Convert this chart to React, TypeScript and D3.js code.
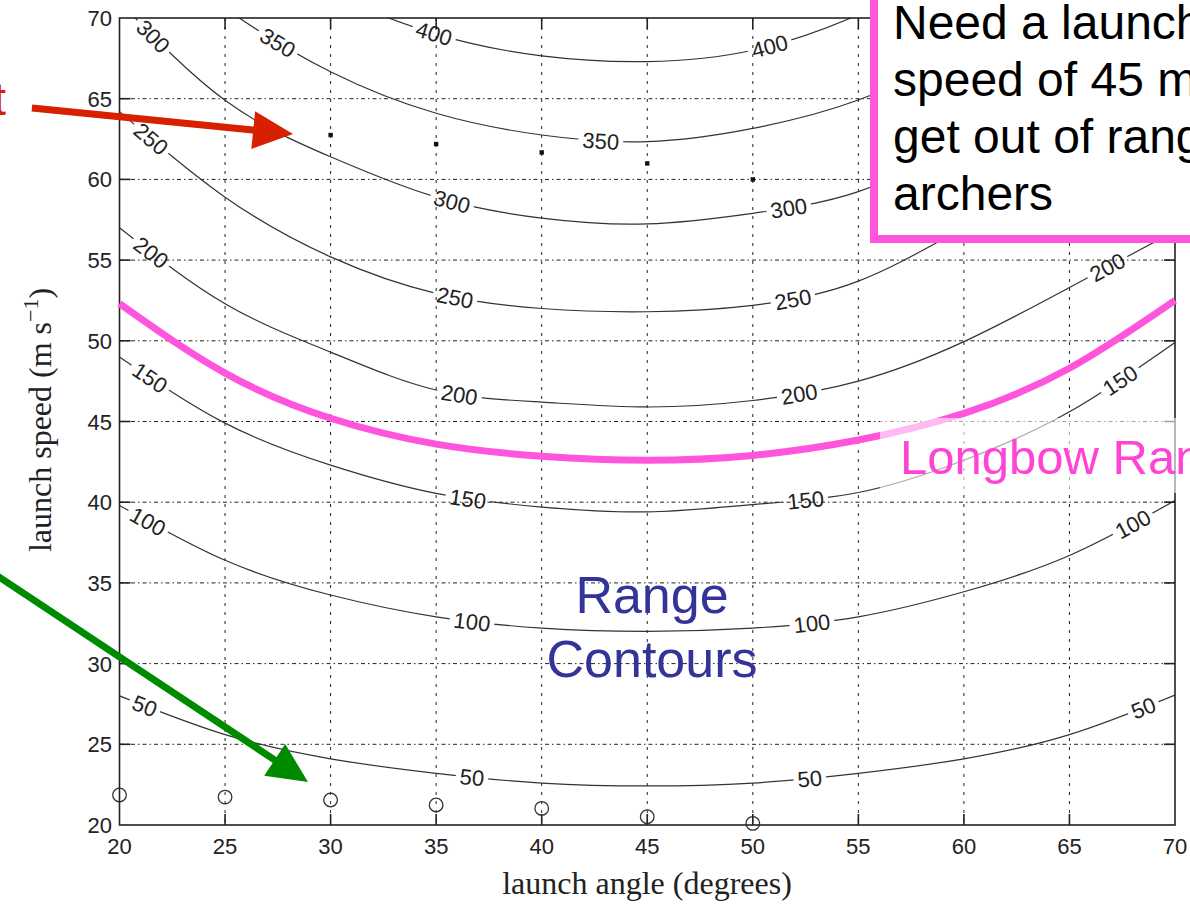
import { useEffect, useRef } from "react";
import * as d3 from "d3";

// launch angles (degrees) where each contour was read
const angles = [20, 25, 30, 35, 40, 45, 50, 55, 60, 65, 70];

// launch speed (m/s) giving each range, read at every angle above
const speed50 = [28.0, 25.6, 24.1, 23.2, 22.6, 22.42, 22.6, 23.2, 24.1, 25.6, 28.05];
const speed100 = [39.8, 36.4, 34.25, 32.9, 32.2, 32.0, 32.2, 32.9, 34.45, 36.7, 40.1];
const speed150 = [49.0, 44.9, 42.3, 40.55, 39.7, 39.4, 39.85, 40.6, 42.6, 45.6, 49.9];
const speed200 = [57.0, 52.3, 49.3, 46.95, 46.2, 45.9, 46.3, 47.5, 49.95, 53.3, 56.8];
const speed250 = [64.2, 58.9, 55.2, 52.94, 52.0, 51.8, 52.2, 53.7, 57.0, 60.5, 64.5];
const speed300 = [71.0, 64.9, 61.4, 58.9, 57.6, 57.24, 57.9, 59.24, 62.3, 66.0, 70.5];
const speed350 = [75.5, 70.6, 66.67, 64.1, 62.75, 62.34, 63.16, 64.92, 68.0, 72.0, 76.0];
const speed400 = [80.0, 75.0, 71.5, 69.0, 67.65, 67.3, 68.0, 70.2, 73.5, 77.5, 82.0];

// angles where the inline contour labels sit
const label50 = [21.2, 36.7, 52.7, 68.5];
const label100 = [21.35, 36.7, 52.8, 68.0];
const label150 = [21.45, 36.5, 52.5, 67.4];
const label200 = [21.5, 36.1, 52.2, 66.8];
const label250 = [21.5, 35.9, 51.9];
const label300 = [21.6, 35.75, 51.7];
const label350 = [27.5, 42.8];
const label400 = [34.9, 50.8];

// longbow range curve (hand drawn)
const longbowSpeeds = [52.3, 48.0, 45.2, 43.6, 42.85, 42.6, 42.9, 43.85, 45.5, 48.3, 52.5];

// black dots near the top and open circles near the bottom
const dotAngles = [30, 35, 40, 45, 50];
const dotSpeeds = [62.75, 62.19, 61.67, 60.99, 60.0];
const circleAngles = [20, 25, 30, 35, 40, 45, 50];
const circleSpeeds = [21.86, 21.73, 21.55, 21.24, 21.03, 20.51, 20.1];

const xTicks = [20, 25, 30, 35, 40, 45, 50, 55, 60, 65, 70];
const yTicks = [20, 25, 30, 35, 40, 45, 50, 55, 60, 65, 70];

const noteLines = ["Need a launch", "speed of 45 m/s to", "get out of range of", "archers"];

const contours = [
  { level: 50, speeds: speed50, labels: label50 },
  { level: 100, speeds: speed100, labels: label100 },
  { level: 150, speeds: speed150, labels: label150 },
  { level: 200, speeds: speed200, labels: label200 },
  { level: 250, speeds: speed250, labels: label250 },
  { level: 300, speeds: speed300, labels: label300 },
  { level: 350, speeds: speed350, labels: label350 },
  { level: 400, speeds: speed400, labels: label400 },
];

const SANS = "'Liberation Sans', Arial, Helvetica, sans-serif";
const SERIF = "'Liberation Serif', 'Times New Roman', serif";

export default function App() {
  const svgRef = useRef<SVGSVGElement>(null);

  useEffect(() => {
    const svg = d3.select(svgRef.current);
    svg.selectAll("*").remove();

    const width = 1190;
    const height = 904;

    const x = d3.scaleLinear().domain([20, 70]).range([119.5, 1175]);
    const y = d3.scaleLinear().domain([20, 70]).range([825, 18]);

    svg.append("rect").attr("width", width).attr("height", height).attr("fill", "#fff");

    const defs = svg.append("defs");
    defs
      .append("clipPath")
      .attr("id", "plot-clip")
      .append("rect")
      .attr("x", x(20))
      .attr("y", y(70))
      .attr("width", x(70) - x(20))
      .attr("height", y(20) - y(70));

    // Grid
    const grid = svg.append("g").attr("stroke", "#222").attr("stroke-width", 1).attr("fill", "none");
    xTicks.slice(1, -1).forEach((t) => {
      grid
        .append("line")
        .attr("x1", x(t))
        .attr("x2", x(t))
        .attr("y1", y(70))
        .attr("y2", y(20))
        .attr("stroke-dasharray", "3,6");
    });
    yTicks.slice(1, -1).forEach((t) => {
      grid
        .append("line")
        .attr("x1", x(20))
        .attr("x2", x(70))
        .attr("y1", y(t))
        .attr("y2", y(t))
        .attr("stroke-dasharray", "4,3,1.5,3");
    });

    // Contours, with gaps cut under the labels
    const mask = defs
      .append("mask")
      .attr("id", "label-gaps")
      .attr("maskUnits", "userSpaceOnUse")
      .attr("x", 0)
      .attr("y", 0)
      .attr("width", width)
      .attr("height", height);
    mask.append("rect").attr("width", width).attr("height", height).attr("fill", "#fff");

    const line = d3
      .line<number>()
      .x((_, i) => x(angles[i]))
      .y((d) => y(d))
      .curve(d3.curveNatural);

    const contourG = svg.append("g").attr("clip-path", "url(#plot-clip)");
    const linesG = contourG.append("g").attr("mask", "url(#label-gaps)");
    const labelG = contourG
      .append("g")
      .attr("font-family", SANS)
      .attr("font-size", 22)
      .attr("fill", "#222");

    contours.forEach((c) => {
      const path = linesG
        .append("path")
        .datum(c.speeds)
        .attr("d", line)
        .attr("fill", "none")
        .attr("stroke", "#333")
        .attr("stroke-width", 1.2);
      const node = path.node() as SVGPathElement;
      const total = node.getTotalLength();
      const pointAtX = (px: number) => {
        let lo = 0;
        let hi = total;
        for (let k = 0; k < 40; k++) {
          const mid = (lo + hi) / 2;
          if (node.getPointAtLength(mid).x < px) lo = mid;
          else hi = mid;
        }
        return node.getPointAtLength((lo + hi) / 2);
      };
      c.labels.forEach((a) => {
        const px = x(a);
        const p = pointAtX(px);
        const p1 = pointAtX(px - 8);
        const p2 = pointAtX(px + 8);
        const rot = (Math.atan2(p2.y - p1.y, p2.x - p1.x) * 180) / Math.PI;
        const w = String(c.level).length * 12.3 + 8;
        const tf = `translate(${p.x},${p.y}) rotate(${rot})`;
        mask
          .append("rect")
          .attr("x", -w / 2)
          .attr("y", -9)
          .attr("width", w)
          .attr("height", 18)
          .attr("fill", "#000")
          .attr("transform", tf);
        labelG
          .append("text")
          .attr("transform", tf)
          .attr("text-anchor", "middle")
          .attr("dy", "0.36em")
          .text(c.level);
      });
    });

    // Markers
    svg
      .append("g")
      .selectAll("rect")
      .data(dotAngles)
      .join("rect")
      .attr("x", (d) => x(d) - 2.2)
      .attr("y", (_, i) => y(dotSpeeds[i]) - 2.2)
      .attr("width", 4.4)
      .attr("height", 4.4)
      .attr("fill", "#111");

    svg
      .append("g")
      .selectAll("circle")
      .data(circleAngles)
      .join("circle")
      .attr("cx", (d) => x(d))
      .attr("cy", (_, i) => y(circleSpeeds[i]))
      .attr("r", 6.8)
      .attr("fill", "none")
      .attr("stroke", "#333")
      .attr("stroke-width", 1.3);

    // Frame and ticks
    const axis = svg.append("g").attr("stroke", "#222").attr("stroke-width", 1.6).attr("fill", "none");
    axis
      .append("rect")
      .attr("x", x(20))
      .attr("y", y(70))
      .attr("width", x(70) - x(20))
      .attr("height", y(20) - y(70));
    xTicks.slice(1, -1).forEach((t) => {
      axis.append("line").attr("x1", x(t)).attr("x2", x(t)).attr("y1", y(20)).attr("y2", y(20) - 11);
      axis.append("line").attr("x1", x(t)).attr("x2", x(t)).attr("y1", y(70)).attr("y2", y(70) + 11);
    });
    yTicks.slice(1, -1).forEach((t) => {
      axis.append("line").attr("x1", x(20)).attr("x2", x(20) + 11).attr("y1", y(t)).attr("y2", y(t));
      axis.append("line").attr("x1", x(70)).attr("x2", x(70) - 11).attr("y1", y(t)).attr("y2", y(t));
    });

    const tickText = svg.append("g").attr("font-family", SANS).attr("font-size", 22).attr("fill", "#222");
    xTicks.forEach((t) => {
      tickText.append("text").attr("x", x(t)).attr("y", 854).attr("text-anchor", "middle").text(t);
    });
    yTicks.forEach((t) => {
      tickText
        .append("text")
        .attr("x", 112)
        .attr("y", y(t) + 8)
        .attr("text-anchor", "end")
        .text(t);
    });

    // Axis titles
    svg
      .append("text")
      .attr("x", 647)
      .attr("y", 894)
      .attr("text-anchor", "middle")
      .attr("font-family", SERIF)
      .attr("font-size", 32)
      .attr("fill", "#222")
      .text("launch angle (degrees)");

    const yTitle = svg
      .append("text")
      .attr("transform", "translate(51,420) rotate(-90)")
      .attr("text-anchor", "middle")
      .attr("font-family", SERIF)
      .attr("font-size", 32)
      .attr("fill", "#222");
    yTitle.append("tspan").text("launch speed (m s");
    yTitle.append("tspan").attr("dy", -13).attr("font-size", 22).text("\u22121");
    yTitle.append("tspan").attr("dy", 13).text(")");

    // Longbow range curve
    svg
      .append("path")
      .datum(longbowSpeeds)
      .attr("d", line)
      .attr("fill", "none")
      .attr("stroke", "#ff55dd")
      .attr("stroke-width", 7);

    // Longbow label with translucent backing
    svg
      .append("rect")
      .attr("x", 880)
      .attr("y", 418)
      .attr("width", 320)
      .attr("height", 75)
      .attr("fill", "#fff")
      .attr("fill-opacity", 0.6);
    svg
      .append("text")
      .attr("x", 900)
      .attr("y", 474)
      .attr("font-family", SANS)
      .attr("font-size", 49)
      .attr("fill", "#ff44d4")
      .text("Longbow Range");

    // Range Contours label
    const rc = svg
      .append("text")
      .attr("text-anchor", "middle")
      .attr("font-family", SANS)
      .attr("font-size", 52)
      .attr("fill", "#333399");
    rc.append("tspan").attr("x", 652).attr("y", 613).text("Range");
    rc.append("tspan").attr("x", 652).attr("y", 677).text("Contours");

    // Arrows
    const arrow = (from: [number, number], to: [number, number], color: string) => {
      const x0 = x(from[0]);
      const y0 = y(from[1]);
      const x1 = x(to[0]);
      const y1 = y(to[1]);
      const len = Math.hypot(x1 - x0, y1 - y0);
      const ux = (x1 - x0) / len;
      const uy = (y1 - y0) / len;
      const headLen = 40;
      const headHalf = 19;
      const bx = x1 - ux * headLen;
      const by = y1 - uy * headLen;
      const g = svg.append("g");
      g.append("line")
        .attr("x1", x0)
        .attr("y1", y0)
        .attr("x2", bx + ux * 2)
        .attr("y2", by + uy * 2)
        .attr("stroke", color)
        .attr("stroke-width", 7);
      g.append("polygon")
        .attr(
          "points",
          [
            [x1, y1],
            [bx - uy * headHalf, by + ux * headHalf],
            [bx + uy * headHalf, by - ux * headHalf],
          ]
            .map((p) => p.join(","))
            .join(" ")
        )
        .attr("fill", color);
    };
    arrow([15.85, 64.42], [28.22, 62.81], "#d62000");
    arrow([13.86, 35.74], [28.93, 22.66], "#008a00");

    svg
      .append("text")
      .attr("x", 6)
      .attr("y", 115)
      .attr("text-anchor", "end")
      .attr("font-family", SANS)
      .attr("font-size", 46)
      .attr("fill", "#d62000")
      .text("t");

    // Note box in the top right
    svg
      .append("rect")
      .attr("x", 874)
      .attr("y", -20)
      .attr("width", 400)
      .attr("height", 259)
      .attr("fill", "#fff")
      .attr("stroke", "#ff55dd")
      .attr("stroke-width", 8);
    const note = svg
      .append("text")
      .attr("font-family", SANS)
      .attr("font-size", 48)
      .attr("fill", "#000");
    noteLines.forEach((t, i) => {
      note.append("tspan").attr("x", 893).attr("y", 39 + i * 57).text(t);
    });
  }, []);

  return (
    <svg
      ref={svgRef}
      width={1190}
      height={904}
      style={{ position: "absolute", left: 0, top: 0, overflow: "hidden" }}
    />
  );
}
